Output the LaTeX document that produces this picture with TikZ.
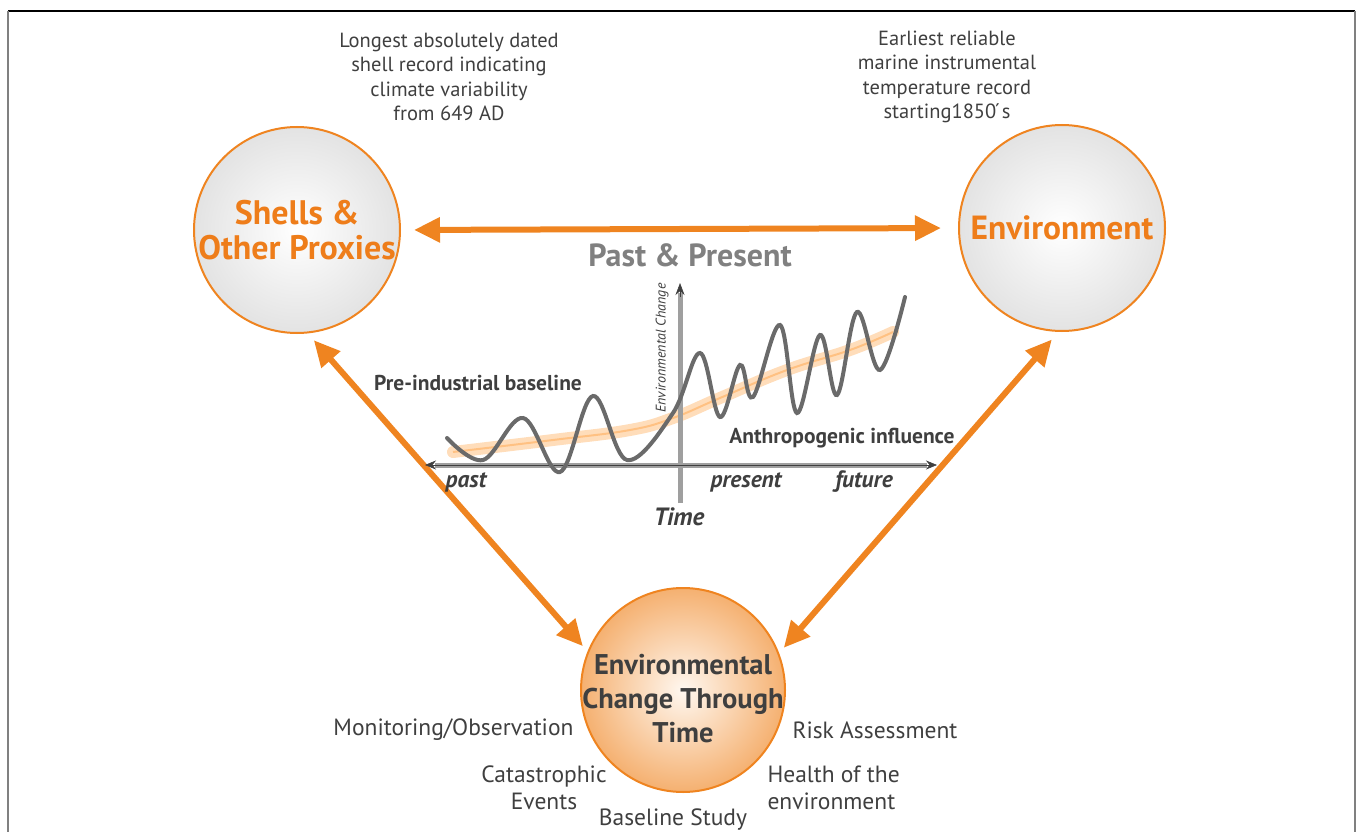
\documentclass[tikz,border=0pt]{standalone}
\usepackage{fontspec}
\setmainfont{PT Sans}
\usepackage{xcolor}
\usepackage{tikz}
\usetikzlibrary{calc, arrows.meta, shadings}

\definecolor{ballorange}{HTML}{EF8420}
\definecolor{txtorange}{HTML}{EE7D1A}
\definecolor{txtdark}{HTML}{3F3F3F}
\definecolor{txtgray}{HTML}{808080}
\definecolor{curvegray}{HTML}{6A6A6A}

\tikzset{
	ball/.style = {circle, draw = ballorange, line width = 2pt, minimum size = 206pt,
		inner sep = 0pt, align = center, shading = radial, inner color = white, outer color = gray!22},
	hotball/.style = {ball, inner color = orange!6, outer color = ballorange!64},
	bigarrow/.style = {draw = ballorange, line width = 6pt,
		{Triangle[length = 26pt, width = 24pt]}-{Triangle[length = 26pt, width = 24pt]}},
	note/.style = {align = center, text = txtdark, font = \fontsize{20.5}{24.5}\selectfont},
	sidenote/.style = {text = txtdark, font = \fontsize{23.5}{27}\selectfont},
	axislabel/.style = {text = txtdark, font = \fontsize{23.5}{26}\selectfont\bfseries\itshape},
}

\begin{document}
\begin{tikzpicture}[x = 1pt, y = -1pt]
		\useasboundingbox (0,0) rectangle (1358,832);
		\def\ax{425};
		\def\bx{937};
		\def\ay{465};
		\def\cx{680};

		\draw [black, line width = 1.5pt] (8,11) -- (1355,11);
		\draw [gray, line width = 1.5pt] (8,11) -- (8,832);
		\draw [gray, line width = 1.5pt] (1355,11) -- (1355,832);

		\node [ball] (shells) at (297,230) {};
		\node [ball] (env) at (1062,228) {};
		\node [hotball, minimum size = 204pt] (change) at (683,690) {};

		\node [text = txtorange, font = \fontsize{34}{35}\selectfont\bfseries, align = center] (shellstext) at (shells) {Shells \&\\Other Proxies};
		\node [text = txtorange, font = \fontsize{33.5}{35}\selectfont\bfseries] (envtext) at (env) {Environment};
		\node [text = txtdark, font = \fontsize{28.5}{34}\selectfont\bfseries, align = center] (changetext) at (683,699) {Environmental\\Change Through\\Time};

		\node [note] (shellnote) at (449,77) {Longest absolutely dated\\shell record indicating\\climate variability\\from 649 AD};
		\node [note] (envnote) at (947,77) {Earliest reliable\\marine instrumental\\temperature record\\starting1850\'{}s};

		\begin{scope}[bigarrow]
			\draw [shorten < = 13pt, shorten > = 17pt] (shells.east) -- (env.west);
			\draw [shorten < = 9pt, shorten > = 7pt] (shells.-84) -- (change.158);
			\draw [shorten < = 10pt, shorten > = 7pt] (env.-92) -- (change.21);
		\end{scope}

		\node [text = txtgray, font = \fontsize{32}{34}\selectfont\bfseries] (pastpresent) at (690,255) {Past \& Present};

		\coordinate (tl) at (\ax,\ay);
		\coordinate (tr) at (\bx,\ay);
		\coordinate (eb) at (\cx,503);
		\coordinate (et) at (\cx,283);

		\draw [orange!45, opacity = 0.6, line width = 12pt, line cap = round]
			plot [smooth, tension = 0.7] coordinates {(453,452) (553,440) (630,430) (673,418) (720,398) (787,370) (850,350) (893,332)};
		\draw [orange!70, opacity = 0.5, line width = 2pt]
			plot [smooth, tension = 0.7] coordinates {(453,452) (553,440) (630,430) (673,418) (720,398) (787,370) (850,350) (893,332)};

		\draw [gray!75, line width = 5pt] ($(tl)+(10,0)$) -- ($(tr)+(-10,0)$);
		\draw [gray!75, line width = 5pt] (eb) -- ($(et)+(0,10)$);
		\draw [txtdark, line width = 0.6pt, {Stealth[length = 11pt, width = 9pt]}-{Stealth[length = 11pt, width = 9pt]}] (tl) -- (tr);
		\draw [txtdark, line width = 0.6pt, -{Stealth[length = 12pt, width = 9pt]}] ($(et)+(0,14)$) -- (et);

		\draw [curvegray, line width = 4pt, line cap = round]
			plot [smooth, tension = 0.6] coordinates {(447,438) (483,460) (523,418) (560,472) (593,396) (627,460) (673,413) (700,353) (720,417) (740,365) (753,397) (780,325) (797,413) (820,335) (837,395) (857,312) (880,370) (905,297)};

		\node [rotate = 90, text = txtdark, font = \fontsize{14}{16}\selectfont\itshape] (envchange) at (662,348) {Environmental Change};
		\node [text = txtdark, font = \fontsize{21.5}{24}\selectfont\bfseries] (baseline) at (478,383) {Pre-industrial baseline};
		\node [text = txtdark, font = \fontsize{21.5}{24}\selectfont\bfseries] (anthro) at (842,438) {Anthropogenic influence};
		\node [axislabel] (past) at (466,482) {past};
		\node [axislabel] (present) at (746,482) {present};
		\node [axislabel] (future) at (864,482) {future};
		\node [axislabel, font = \fontsize{25}{28}\selectfont\bfseries\itshape] (time) at (679,517) {Time};

		\node [sidenote, anchor = east] (monitor) at (577,730) {Monitoring/Observation};
		\node [sidenote, anchor = west] (risk) at (789,730) {Risk Assessment};
		\node [sidenote, align = center] (catas) at (544,788) {Catastrophic\\Events};
		\node [sidenote, align = left, anchor = west] (health) at (764,788) {Health of the\\environment};
		\node [sidenote] (bstudy) at (673,820) {Baseline Study};
	\end{tikzpicture}
\end{document}
